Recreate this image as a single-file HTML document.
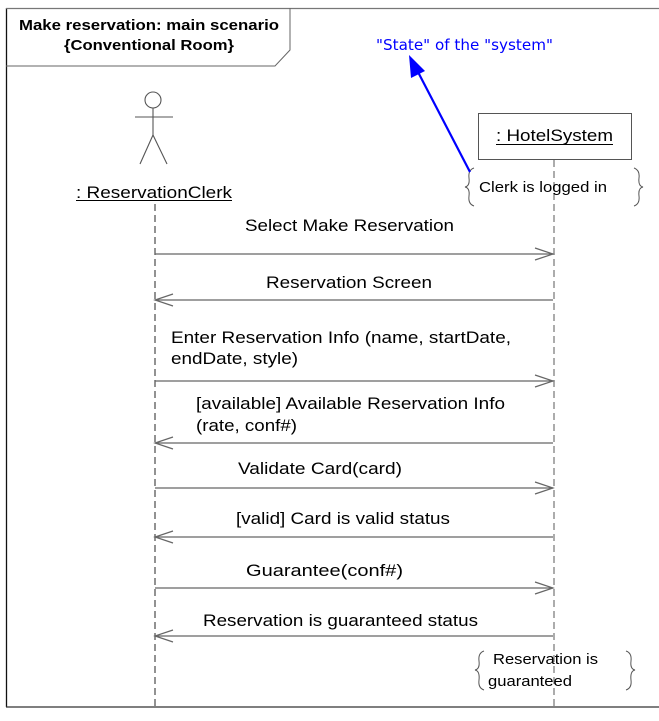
<!DOCTYPE html>
<html><head><style>
body{margin:0;background:#fff;}
svg text{font-family:"Liberation Sans",Arial,sans-serif;fill:#000;}
</style></head><body>
<svg width="659" height="716" viewBox="0 0 659 716" xmlns="http://www.w3.org/2000/svg">
<rect width="659" height="716" fill="#fff"/>
<!-- frame -->
<line x1="6.5" y1="8" x2="6.5" y2="707" stroke="#111" stroke-width="1.3"/>
<line x1="6" y1="8.5" x2="659" y2="8.5" stroke="#777" stroke-width="1.3"/>
<line x1="6" y1="707" x2="659" y2="707" stroke="#333" stroke-width="1.3"/>
<polyline points="6,66 275,66 290,50 290,8" fill="none" stroke="#666" stroke-width="1"/>
<text x="19" y="30" font-size="15" font-weight="bold" textLength="260" lengthAdjust="spacingAndGlyphs">Make reservation: main scenario</text>
<text x="64" y="50" font-size="15" font-weight="bold" textLength="170" lengthAdjust="spacingAndGlyphs">{Conventional Room}</text>
<!-- actor -->
<g stroke="#555" stroke-width="1.1" fill="none">
<circle cx="153" cy="100" r="8"/>
<line x1="153" y1="108" x2="153" y2="135"/>
<line x1="135" y1="117" x2="173" y2="117"/>
<line x1="153" y1="135" x2="140" y2="164"/>
<line x1="153" y1="135" x2="167" y2="164"/>
</g>
<text x="76" y="198" font-size="17" textLength="156" lengthAdjust="spacingAndGlyphs">: ReservationClerk</text>
<line x1="76" y1="200.5" x2="232" y2="200.5" stroke="#000" stroke-width="1"/>
<!-- system -->
<rect x="478.5" y="113.5" width="153" height="46" fill="#fff" stroke="#555" stroke-width="1"/>
<text x="496" y="141" font-size="17" textLength="117" lengthAdjust="spacingAndGlyphs">: HotelSystem</text>
<line x1="496" y1="144.5" x2="613" y2="144.5" stroke="#000" stroke-width="1"/>
<!-- lifelines -->
<line x1="155" y1="204" x2="155" y2="707" stroke="#777" stroke-width="1.6" stroke-dasharray="7,4"/>
<line x1="554" y1="160" x2="554" y2="707" stroke="#888" stroke-width="1.4" stroke-dasharray="7,4"/>
<!-- messages -->
<g stroke="#666" stroke-width="1.2" fill="none">
<line x1="155" y1="254" x2="553" y2="254"/><polyline points="535,248 553,254 535,260"/>
<line x1="155" y1="300" x2="553" y2="300"/><polyline points="173,294 155,300 173,306"/>
<line x1="155" y1="381" x2="553" y2="381"/><polyline points="535,375 553,381 535,387"/>
<line x1="155" y1="443" x2="553" y2="443"/><polyline points="173,437 155,443 173,449"/>
<line x1="155" y1="488" x2="553" y2="488"/><polyline points="535,482 553,488 535,494"/>
<line x1="155" y1="537" x2="553" y2="537"/><polyline points="173,531 155,537 173,543"/>
<line x1="155" y1="588" x2="553" y2="588"/><polyline points="535,582 553,588 535,594"/>
<line x1="155" y1="636" x2="553" y2="636"/><polyline points="173,630 155,636 173,642"/>
</g>
<g font-size="17" lengthAdjust="spacingAndGlyphs">
<text x="245" y="231" textLength="209" lengthAdjust="spacingAndGlyphs">Select Make Reservation</text>
<text x="266" y="288" textLength="166" lengthAdjust="spacingAndGlyphs">Reservation Screen</text>
<text x="171" y="343" textLength="340" lengthAdjust="spacingAndGlyphs">Enter Reservation Info (name, startDate,</text>
<text x="171" y="364" textLength="127" lengthAdjust="spacingAndGlyphs">endDate, style)</text>
<text x="196" y="409" textLength="309" lengthAdjust="spacingAndGlyphs">[available] Available Reservation Info</text>
<text x="196" y="431" textLength="101" lengthAdjust="spacingAndGlyphs">(rate, conf#)</text>
<text x="238" y="474" textLength="164" lengthAdjust="spacingAndGlyphs">Validate Card(card)</text>
<text x="236" y="524" textLength="214" lengthAdjust="spacingAndGlyphs">[valid] Card is valid status</text>
<text x="246" y="576" textLength="157" lengthAdjust="spacingAndGlyphs">Guarantee(conf#)</text>
<text x="203" y="626" textLength="275" lengthAdjust="spacingAndGlyphs">Reservation is guaranteed status</text>
</g>
<!-- notes -->
<g stroke="#555" stroke-width="1" fill="none">
<path d="M474,168 Q468,170 469,178 Q470,186 465,187 Q470,188 469,196 Q468,204 474,206"/>
<path d="M634,168 Q640,170 639,178 Q638,186 643,187 Q638,188 639,196 Q640,204 634,206"/>
<path d="M484,651 Q478,653 479,661 Q480,669 475,670 Q480,671 479,680 Q478,688 484,690"/>
<path d="M626,651 Q632,653 631,661 Q630,669 635,670 Q630,671 631,680 Q632,688 626,690"/>
</g>
<text x="479" y="192" font-size="15" textLength="128" lengthAdjust="spacingAndGlyphs">Clerk is logged in</text>
<text x="493" y="664" font-size="15" textLength="105" lengthAdjust="spacingAndGlyphs">Reservation is</text>
<text x="488" y="686" font-size="15" textLength="84" lengthAdjust="spacingAndGlyphs">guaranteed</text>
<!-- blue annotation -->
<line x1="470" y1="172" x2="418" y2="72" stroke="#00f" stroke-width="2.2"/>
<polygon points="409,55 411,78 425,71" fill="#00f"/>
<text x="376" y="50" font-size="15" textLength="177" lengthAdjust="spacingAndGlyphs" style="fill:#00f;font-family:'DejaVu Sans',sans-serif">"State" of the "system"</text>
</svg>
</body></html>
